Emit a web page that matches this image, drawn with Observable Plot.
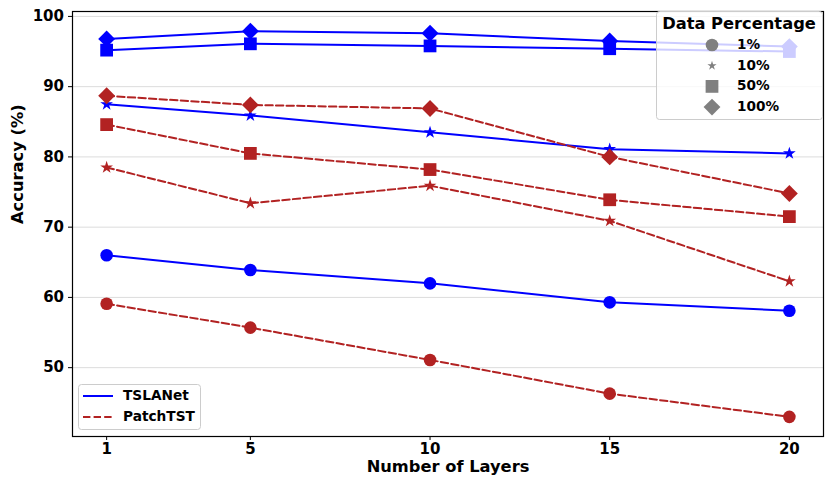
<!DOCTYPE html>
<html><head><meta charset="utf-8">
<script src="https://cdn.jsdelivr.net/npm/d3@7"></script>
<script src="https://cdn.jsdelivr.net/npm/@observablehq/plot@0.6"></script>
<style>body{margin:0;background:#fff} svg{display:block}</style>
</head><body><div id="chart"></div><script>
// ---- data ----
const layers = [1, 5, 10, 15, 20];
const pcts = ["1%", "10%", "50%", "100%"];
const models = ["TSLANet", "PatchTST"];
const yTicks = [50, 60, 70, 80, 90, 100];

const tsla1   = [66.0, 63.9, 62.0, 59.3, 58.1];
const tsla10  = [87.5, 85.9, 83.5, 81.1, 80.5];
const tsla50  = [95.2, 96.1, 95.8, 95.4, 95.0];
const tsla100 = [96.8, 97.9, 97.6, 96.5, 95.7];

const patch1   = [59.1, 55.7, 51.1, 46.3, 43.0];
const patch10  = [78.5, 73.4, 75.9, 70.9, 62.3];
const patch50  = [84.6, 80.5, 78.2, 73.9, 71.5];
const patch100 = [88.7, 87.4, 86.9, 80.0, 74.8];

const values = {
  TSLANet:  {"1%": tsla1,  "10%": tsla10,  "50%": tsla50,  "100%": tsla100},
  PatchTST: {"1%": patch1, "10%": patch10, "50%": patch50, "100%": patch100}
};

// ---- styles ----
const colors = {TSLANet: "#0000ff", PatchTST: "#b22222"};
const dashes = {TSLANet: null, PatchTST: "7.4,3.2"};
const symbols = {"1%": "circle", "10%": "star", "50%": "square", "100%": "diamond2"};
const radii = {"1%": 6.3, "10%": 4.0, "50%": 7.2, "100%": 7.6};

const rows = [];
for (const model of models) for (const pct of pcts)
  layers.forEach((l, i) => rows.push({model, pct, layer: l, acc: values[model][pct][i]}));

const marks = [
  Plot.gridY(yTicks, {stroke: "#dcdcdc", strokeOpacity: 1, strokeWidth: 1})
];
for (const model of models) for (const pct of pcts) {
  const d = rows.filter(r => r.model === model && r.pct === pct);
  marks.push(Plot.line(d, {x: "layer", y: "acc", stroke: colors[model], strokeWidth: 2,
    strokeDasharray: dashes[model]}));
  marks.push(Plot.dot(d, {x: "layer", y: "acc", fill: colors[model], stroke: "none",
    symbol: symbols[pct], r: radii[pct]}));
}
marks.push(
  Plot.frame({stroke: "black", strokeWidth: 1.2}),
  Plot.axisX(layers, {tickSize: 4, tickPadding: 3, label: null, fontSize: 15, fontWeight: "bold"}),
  Plot.axisY(yTicks, {tickSize: 4, tickPadding: 4.5, label: null, fontSize: 15, fontWeight: "bold"}),
  Plot.text(["Number of Layers"], {frameAnchor: "bottom", dy: 35.5, fontSize: 16.3, fontWeight: "bold"}),
  Plot.text(["Accuracy (%)"], {frameAnchor: "left", dx: -55, rotate: -90, fontSize: 16.3, fontWeight: "bold"})
);

const plot = Plot.plot({
  width: 831, height: 490,
  marginLeft: 72, marginRight: 8, marginTop: 11, marginBottom: 54,
  style: {fontFamily: "DejaVu Sans", fontWeight: "bold", fontSize: "15px", color: "black", background: "white"},
  x: {type: "linear", domain: [0.05, 20.95]},
  y: {domain: [40.2, 100.7]},
  marks
});
document.getElementById("chart").appendChild(plot);

// ---- legends ----
const svg = d3.select(plot);
const lg = svg.append("g").attr("font-family", "DejaVu Sans").attr("font-weight", "bold");
lg.append("rect").attr("x", 656.5).attr("y", 11.5).attr("width", 166).attr("height", 108)
  .attr("rx", 3).attr("fill", "white").attr("fill-opacity", 0.8).attr("stroke", "#cccccc");
lg.append("text").attr("x", 739).attr("y", 24).attr("text-anchor", "middle")
  .attr("dominant-baseline", "middle").attr("font-size", 16.3).text("Data Percentage");
const legSym = {"1%": d3.symbolCircle, "10%": d3.symbolStar, "50%": d3.symbolSquare, "100%": d3.symbolDiamond2};
const legR = {"1%": 6.3, "10%": 2.9, "50%": 7.2, "100%": 7.6};
pcts.forEach((p, i) => {
  const y = 45 + i * 20.7;
  lg.append("path").attr("transform", `translate(712,${y})`)
    .attr("d", d3.symbol(legSym[p], Math.PI * legR[p] * legR[p])()).attr("fill", "#808080");
  lg.append("text").attr("x", 737).attr("y", y).attr("text-anchor", "start")
    .attr("dominant-baseline", "middle").attr("font-size", 13.6).text(p);
});

const lg2 = svg.append("g").attr("font-family", "DejaVu Sans").attr("font-weight", "bold");
lg2.append("rect").attr("x", 78.5).attr("y", 384.5).attr("width", 122).attr("height", 45)
  .attr("rx", 3).attr("fill", "white").attr("fill-opacity", 0.8).attr("stroke", "#cccccc");
models.forEach((m, i) => {
  const y = 396 + i * 21;
  lg2.append("line").attr("x1", 83).attr("x2", 113).attr("y1", y).attr("y2", y)
    .attr("stroke", colors[m]).attr("stroke-width", 2).attr("stroke-dasharray", dashes[m]);
  lg2.append("text").attr("x", 123).attr("y", y).attr("text-anchor", "start")
    .attr("dominant-baseline", "middle").attr("font-size", 13.7).text(m);
});
</script></body></html>
